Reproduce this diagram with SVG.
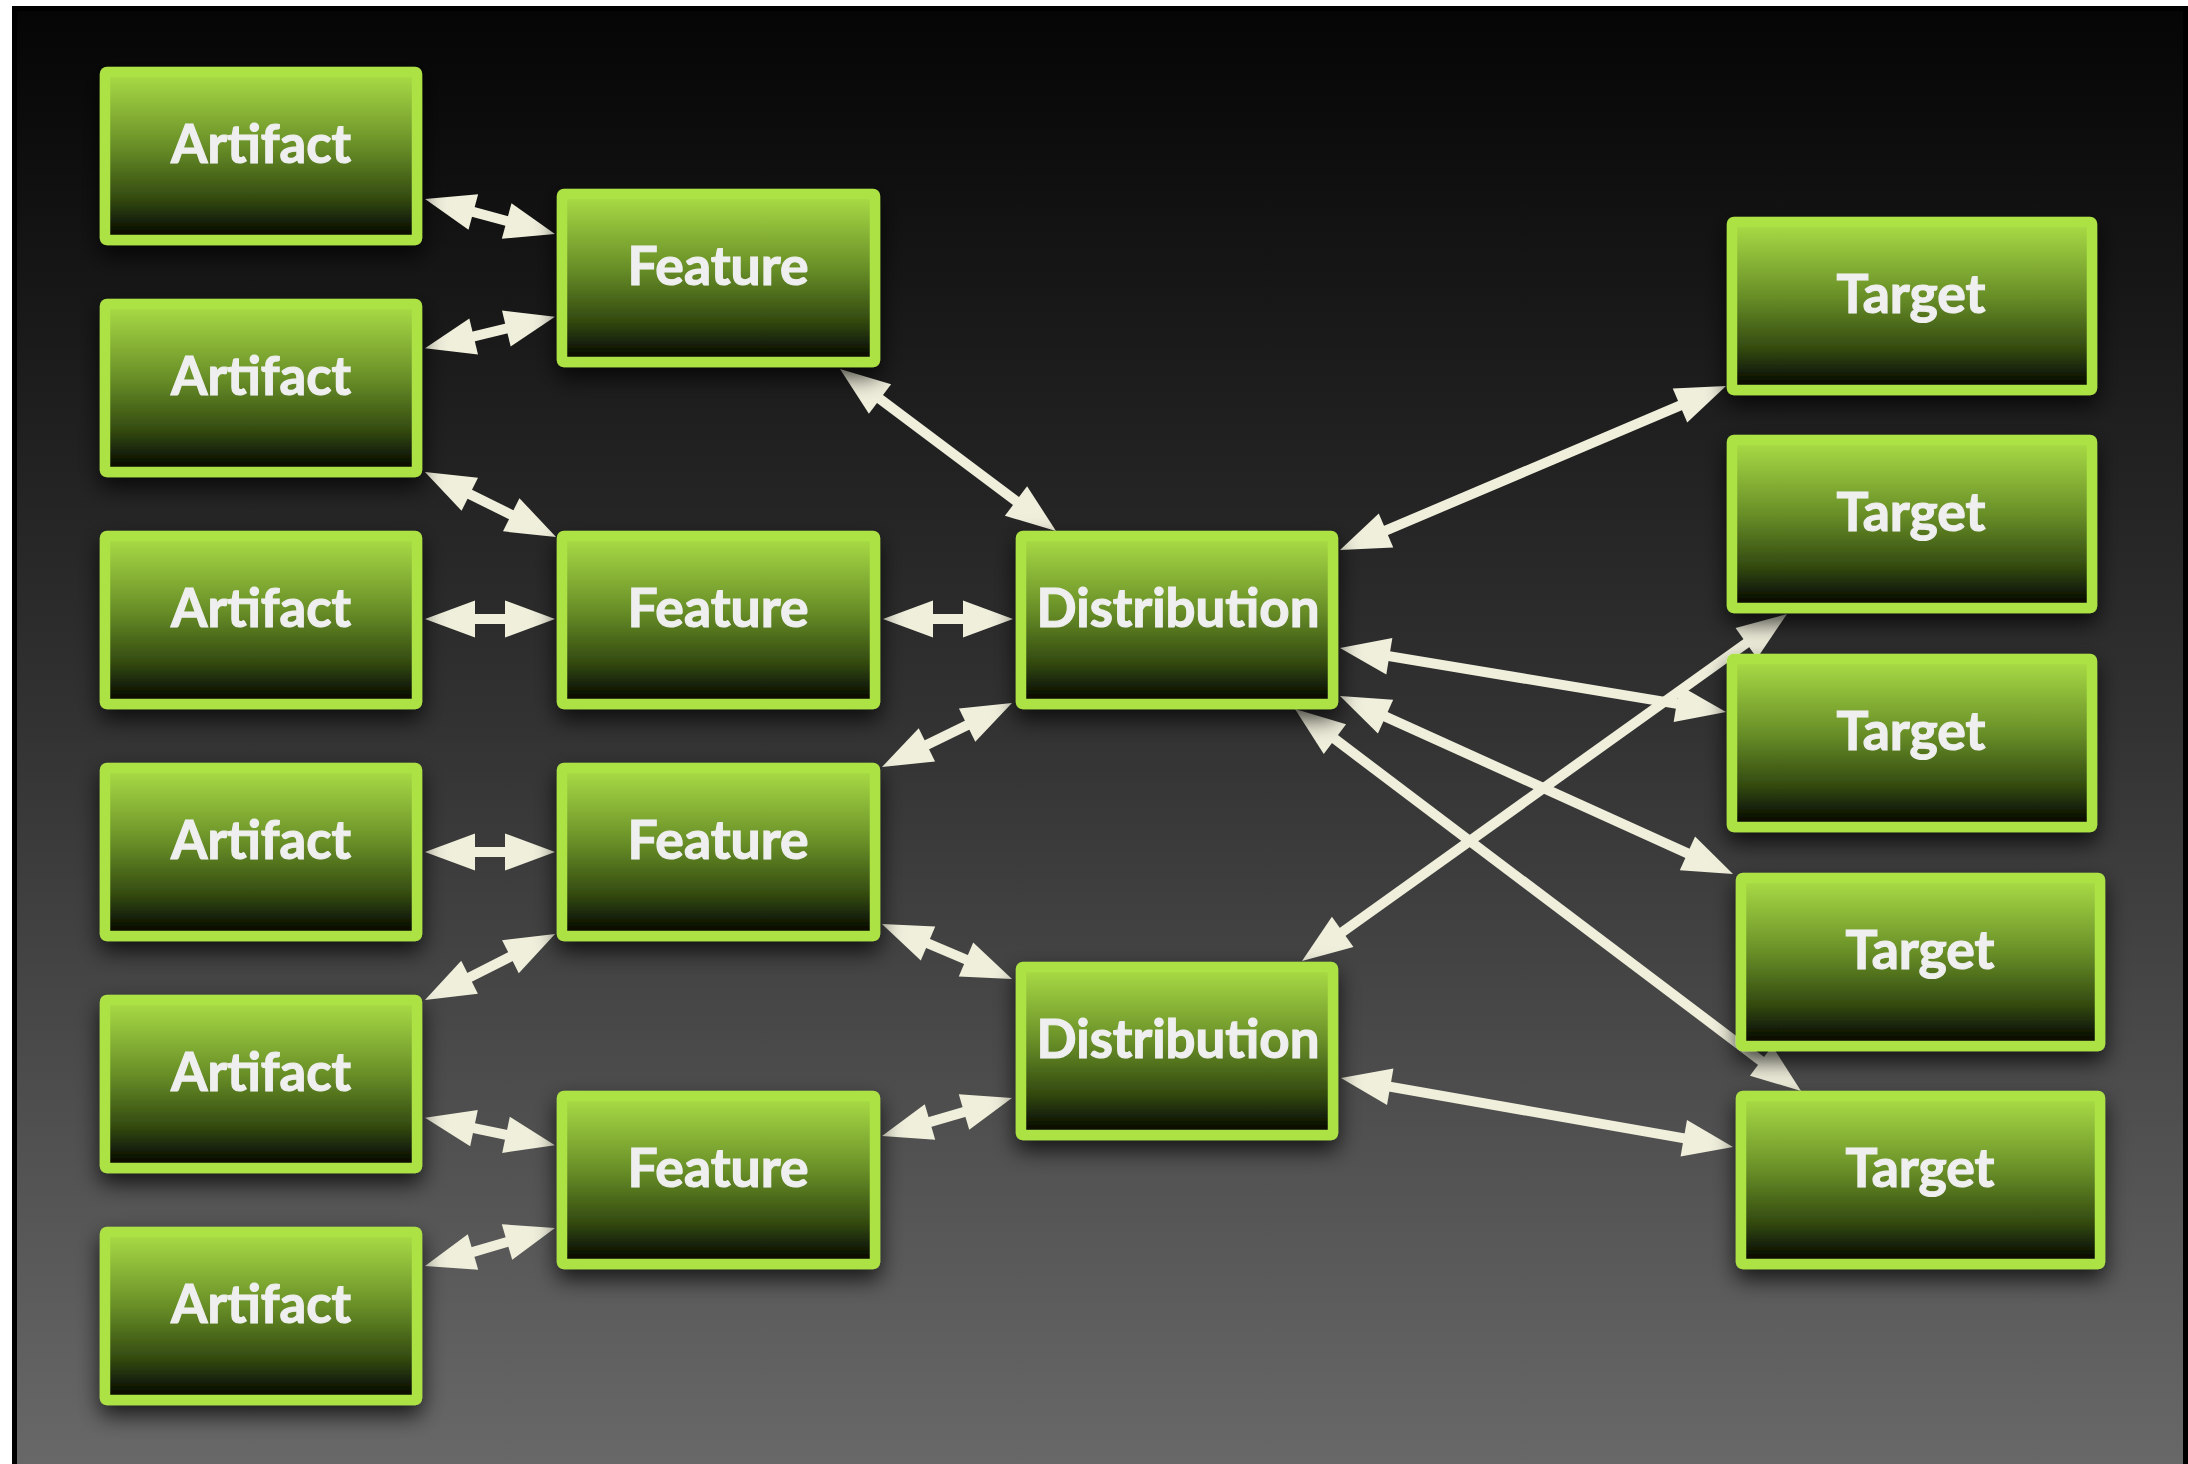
<svg xmlns="http://www.w3.org/2000/svg" width="2188" height="1464" viewBox="0 0 2188 1464">
  <defs>
    <linearGradient id="bg" x1="0" y1="11" x2="0" y2="1464" gradientUnits="userSpaceOnUse">
      <stop offset="0" stop-color="#050505"/>
      <stop offset="0.5" stop-color="#333333"/>
      <stop offset="1" stop-color="#686868"/>
    </linearGradient>
    <linearGradient id="boxfill" x1="0" y1="0" x2="0" y2="1">
      <stop offset="0" stop-color="#abde46"/>
      <stop offset="0.45" stop-color="#678d27"/>
      <stop offset="0.75" stop-color="#344b10"/>
      <stop offset="1" stop-color="#000000"/>
    </linearGradient>
    <filter id="shadow" x="-20%" y="-20%" width="140%" height="160%">
      <feDropShadow dx="0" dy="10" stdDeviation="11" flood-color="#000000" flood-opacity="0.75"/>
    </filter>
    <marker id="head" markerUnits="userSpaceOnUse" markerWidth="50" markerHeight="37" refX="5" refY="18.5" orient="auto-start-reverse" overflow="visible">
      <path d="M0,0 L50,18.5 L0,37 z" fill="#f0efdc"/>
    </marker>
  </defs>
  <style>
    .box { fill: url(#boxfill); stroke: #ade244; stroke-width: 10.5; filter: url(#shadow); }
    .lbl { font-family: Lato, "Open Sans", "Liberation Sans", sans-serif; font-weight: 700; font-size: 54px; fill: #efefef; stroke: #efefef; stroke-width: 1.2; text-anchor: middle; }
    .conn line { stroke: #f0efdc; stroke-width: 10; marker-start: url(#head); marker-end: url(#head); }
  </style>

  <rect x="0" y="0" width="2188" height="1464" fill="#ffffff"/>
  <rect x="12" y="6" width="2176" height="1458" fill="#000000"/>
  <rect x="17" y="11" width="2166" height="1453" fill="url(#bg)"/>

  <g id="connectors" class="conn">
    <line x1="468.5" y1="210.7" x2="511.5" y2="222.3"/>
    <line x1="468.8" y1="337.6" x2="511.2" y2="327.4"/>
    <line x1="465.3" y1="492" x2="515.7" y2="517"/>
    <line x1="470" y1="619" x2="510" y2="619"/>
    <line x1="470" y1="852" x2="510" y2="852"/>
    <line x1="465.1" y1="979.6" x2="514.9" y2="954.4"/>
    <line x1="469.1" y1="1127.1" x2="510.9" y2="1135.9"/>
    <line x1="468.2" y1="1253.4" x2="511.8" y2="1240.6"/>
    <line x1="876" y1="396" x2="1020" y2="504"/>
    <line x1="928" y1="619" x2="968" y2="619"/>
    <line x1="922.4" y1="747.1" x2="971.6" y2="722.9"/>
    <line x1="923.4" y1="941.5" x2="970.6" y2="961.5"/>
    <line x1="925.2" y1="1123.4" x2="968.8" y2="1110.6"/>
    <line x1="1381.4" y1="532.4" x2="1684.6" y2="403.6"/>
    <line x1="1384.4" y1="655.4" x2="1681.6" y2="704.6"/>
    <line x1="1381" y1="714.6" x2="1692" y2="855.4"/>
    <line x1="1330.9" y1="736.1" x2="1765.1" y2="1063.9"/>
    <line x1="1338.6" y1="934.8" x2="1750.4" y2="640.2"/>
    <line x1="1385.3" y1="1085.8" x2="1688.7" y2="1139.2"/>
  </g>

  <g id="artifact1"><rect class="box" x="105" y="72" width="312" height="168" rx="2"/><text class="lbl" x="261" y="163" textLength="180" lengthAdjust="spacingAndGlyphs">Artifact</text></g>
  <g id="artifact2"><rect class="box" x="105" y="304" width="312" height="168" rx="2"/><text class="lbl" x="261" y="395" textLength="180" lengthAdjust="spacingAndGlyphs">Artifact</text></g>
  <g id="artifact3"><rect class="box" x="105" y="536" width="312" height="168" rx="2"/><text class="lbl" x="261" y="627" textLength="180" lengthAdjust="spacingAndGlyphs">Artifact</text></g>
  <g id="artifact4"><rect class="box" x="105" y="768" width="312" height="168" rx="2"/><text class="lbl" x="261" y="859" textLength="180" lengthAdjust="spacingAndGlyphs">Artifact</text></g>
  <g id="artifact5"><rect class="box" x="105" y="1000" width="312" height="168" rx="2"/><text class="lbl" x="261" y="1091" textLength="180" lengthAdjust="spacingAndGlyphs">Artifact</text></g>
  <g id="artifact6"><rect class="box" x="105" y="1232" width="312" height="168" rx="2"/><text class="lbl" x="261" y="1323" textLength="180" lengthAdjust="spacingAndGlyphs">Artifact</text></g>

  <g id="feature1"><rect class="box" x="562" y="194" width="313" height="168" rx="2"/><text class="lbl" x="718" y="285" textLength="181" lengthAdjust="spacingAndGlyphs">Feature</text></g>
  <g id="feature2"><rect class="box" x="562" y="536" width="313" height="168" rx="2"/><text class="lbl" x="718" y="627" textLength="181" lengthAdjust="spacingAndGlyphs">Feature</text></g>
  <g id="feature3"><rect class="box" x="562" y="768" width="313" height="168" rx="2"/><text class="lbl" x="718" y="859" textLength="181" lengthAdjust="spacingAndGlyphs">Feature</text></g>
  <g id="feature4"><rect class="box" x="562" y="1096" width="313" height="168" rx="2"/><text class="lbl" x="718" y="1187" textLength="181" lengthAdjust="spacingAndGlyphs">Feature</text></g>

  <g id="distribution1"><rect class="box" x="1021" y="536" width="312" height="168" rx="2"/><text class="lbl" x="1178" y="627" textLength="283" lengthAdjust="spacingAndGlyphs">Distribution</text></g>
  <g id="distribution2"><rect class="box" x="1021" y="967" width="312" height="168" rx="2"/><text class="lbl" x="1178" y="1058" textLength="283" lengthAdjust="spacingAndGlyphs">Distribution</text></g>

  <g id="target1"><rect class="box" x="1732" y="222" width="360" height="168" rx="2"/><text class="lbl" x="1911" y="313" textLength="149" lengthAdjust="spacingAndGlyphs">Target</text></g>
  <g id="target2"><rect class="box" x="1732" y="440" width="360" height="168" rx="2"/><text class="lbl" x="1911" y="531" textLength="149" lengthAdjust="spacingAndGlyphs">Target</text></g>
  <g id="target3"><rect class="box" x="1732" y="659" width="360" height="168" rx="2"/><text class="lbl" x="1911" y="750" textLength="149" lengthAdjust="spacingAndGlyphs">Target</text></g>
  <g id="target4"><rect class="box" x="1741" y="878" width="359" height="168" rx="2"/><text class="lbl" x="1920" y="969" textLength="149" lengthAdjust="spacingAndGlyphs">Target</text></g>
  <g id="target5"><rect class="box" x="1741" y="1096" width="359" height="168" rx="2"/><text class="lbl" x="1920" y="1187" textLength="149" lengthAdjust="spacingAndGlyphs">Target</text></g>
</svg>
